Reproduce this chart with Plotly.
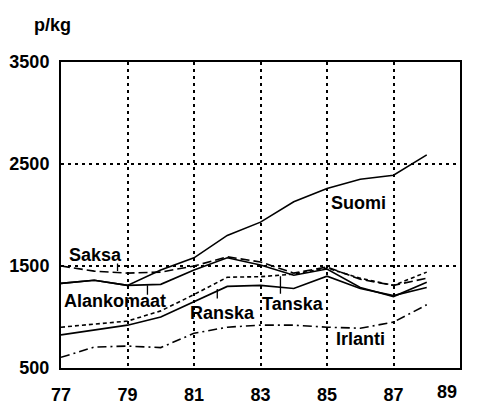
import plotly.graph_objects as go

years = [77, 78, 79, 80, 81, 82, 83, 84, 85, 86, 87, 88]

suomi      = [1330, 1360, 1310, 1460, 1580, 1800, 1930, 2130, 2260, 2350, 2390, 2590]
saksa      = [1500, 1450, 1430, 1440, 1500, 1590, 1540, 1430, 1490, 1370, 1310, 1380]
alankomaat = [1330, 1360, 1310, 1320, 1460, 1580, 1510, 1410, 1470, 1290, 1200, 1340]
ranska     = [825, 870, 920, 1000, 1150, 1300, 1310, 1280, 1400, 1280, 1210, 1290]
tanska     = [900, 930, 960, 1060, 1220, 1390, 1395, 1420, 1480, 1380, 1310, 1440]
irlanti    = [605, 705, 715, 700, 840, 900, 920, 920, 900, 890, 950, 1120]

x_ticks = [77, 79, 81, 83, 85, 87]
x_last_tick = "89"
y_ticks = [500, 1500, 2500, 3500]

series = [
    ("Suomi", suomi, "solid"),
    ("Saksa", saksa, "9px,4px"),
    ("Alankomaat", alankomaat, "solid"),
    ("Ranska", ranska, "solid"),
    ("Tanska", tanska, "4px,3px"),
    ("Irlanti", irlanti, "9px,4px,2px,4px"),
]

# label positions (year, value) and pointer (year, value, pixel length)
labels = [
    ("Suomi", 85.96, 2120, None),
    ("Saksa", 78.05, 1610, (78.7, 1450, -9)),
    ("Alankomaat", 78.62, 1160, (79.6, 1312, 11)),
    ("Ranska", 81.87, 1040, (81.7, 1275, 11)),
    ("Tanska", 83.98, 1130, (83.6, 1400, 19)),
    ("Irlanti", 86.0, 785, None),
]

FONT = "Liberation Sans"
FS = 18
tfont = dict(family=FONT, size=FS, color="black")

def b(s):
    return "<b>" + s + "</b>"

fig = go.Figure()
for name, vals, dash in series:
    fig.add_trace(go.Scatter(
        x=years, y=vals, mode="lines", name=name,
        line=dict(color="black", width=1.6, dash=dash),
        showlegend=False,
    ))

annotations = []
for name, lx, ly, ptr in labels:
    annotations.append(dict(
        x=lx, y=ly, xref="x", yref="y", text=b(name), showarrow=False,
        xanchor="center", yanchor="middle", font=tfont,
    ))
    if ptr is not None:
        px_, py_, ln = ptr
        annotations.append(dict(
            x=px_, y=py_, xref="x", yref="y", text="", showarrow=True,
            arrowhead=0, arrowwidth=1.3, arrowcolor="black",
            ax=0, ay=ln, standoff=0, startstandoff=0,
        ))

annotations.append(dict(
    x=-0.022, y=1.12, xref="paper", yref="paper", text=b("p/kg"), showarrow=False,
    xanchor="center", yanchor="middle", font=tfont,
))
annotations.append(dict(
    x=88.62, y=-0.08, xref="x", yref="paper", text=b(x_last_tick), showarrow=False,
    xanchor="center", yanchor="middle", font=tfont,
))

# page body has an 8px margin, so the figure is offset by (8, 8)
fig.update_layout(
    width=469, height=398,
    margin=dict(l=53, r=17, t=54, b=38),
    plot_bgcolor="white", paper_bgcolor="white",
    font=tfont,
    annotations=annotations,
    xaxis=dict(
        range=[77, 89], tickvals=x_ticks, ticktext=[b(str(v)) for v in x_ticks],
        showgrid=True, gridcolor="black", gridwidth=1.5, griddash="3px,4px",
        showline=True, linecolor="black", linewidth=2, mirror=True,
        ticks="", zeroline=False, ticklabelstandoff=9, tickfont=tfont,
        automargin=False,
    ),
    yaxis=dict(
        range=[500, 3500], tickvals=y_ticks, ticktext=[b(str(v)) for v in y_ticks],
        showgrid=True, gridcolor="black", gridwidth=1.5, griddash="3px,4px",
        showline=True, linecolor="black", linewidth=2, mirror=True,
        ticks="", zeroline=False, ticklabelstandoff=6, tickfont=tfont,
        automargin=False,
    ),
)

fig.write_html("out.html")
